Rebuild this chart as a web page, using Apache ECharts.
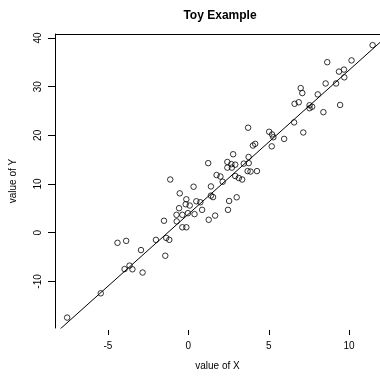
<!DOCTYPE html>
<html>
<head>
<meta charset="utf-8">
<script src="https://cdn.jsdelivr.net/npm/echarts@6/dist/echarts.min.js"></script>
<style>
  html, body { margin: 0; padding: 0; background: #fff; }
  #chart { width: 380px; height: 376px; }
</style>
</head>
<body>
<div id="chart"></div>
<script>
// data
const xValues = [
  -7.53, -5.44, -4.40, -3.86, -2.94, -3.96, -3.65, -3.47, -2.84, -2.01,
  -1.37, -1.18, -1.43, -1.51, -1.12, -0.73, -0.37, -0.02, 0.39, -0.72,
  -0.37, -0.12, -0.53, -0.12, 0.50, 0.75, -0.16, 0.09, -0.57, 0.86,
  0.33, 1.41, 1.41, 1.54, 1.27, 1.67, 2.47, 2.54, 3.01, 2.14,
  3.35, 1.76, 2.00, 2.92, 3.14, 1.24, 2.43, 2.68, 2.92, 3.45,
  3.76, 2.43, 2.71, 3.69, 3.87, 4.27, 2.79, 3.75, 4.02, 4.16,
  5.19, 3.72, 5.03, 5.21, 5.29, 5.96, 6.58, 7.15, 6.61, 6.87,
  6.99, 7.09, 7.54, 7.70, 7.54, 8.05, 8.40, 9.44, 8.54, 9.19,
  9.37, 9.68, 9.70, 8.64, 10.15, 11.46
];
const yValues = [
  -17.42, -12.44, -2.07, -1.67, -3.56, -7.46, -6.75, -7.50, -8.17, -1.46,
  -1.06, -1.46, -4.72, 2.46, 10.93, 3.68, 3.68, 4.02, 3.82, 2.34,
  1.12, 1.12, 8.09, 6.87, 6.46, 6.26, 5.85, 5.59, 5.04, 4.70,
  9.45, 9.51, 7.62, 7.32, 2.66, 3.52, 4.70, 6.52, 7.28, 10.47,
  10.93, 11.85, 11.54, 11.65, 11.24, 14.29, 14.53, 14.09, 13.98, 14.19,
  14.29, 13.37, 13.37, 12.66, 12.56, 12.66, 16.12, 15.55, 17.91, 18.25,
  17.74, 21.57, 20.73, 20.18, 19.61, 19.27, 22.66, 20.59, 26.48, 26.79,
  29.70, 28.68, 26.18, 25.87, 25.57, 28.41, 24.76, 26.24, 30.65, 30.65,
  33.09, 33.50, 31.91, 35.02, 35.39, 38.52
];

// fitted line  y = a + b x
const fitIntercept = 3.8;
const fitSlope = 2.96;
const fitX = [-9, 13];

const xTicks = [-5, 0, 5, 10];
const yTicks = [-10, 0, 10, 20, 30, 40];

const xMin = -8.285, xMax = 11.92;
const yMin = -19.56, yMax = 40.81;

const points = xValues.map((x, i) => [x, yValues[i]]);
const fitLine = fitX.map((x) => [x, fitIntercept + fitSlope * x]);

const font = "'Liberation Sans', Arial, Helvetica, sans-serif";
const chart = echarts.init(document.getElementById("chart"));

chart.setOption({
  animation: false,
  title: {
    text: "Toy Example",
    left: 215,
    top: 5,
    textAlign: "center",
    textStyle: { fontFamily: font, fontSize: 12, fontWeight: "bold", color: "#000" },
  },
  grid: { left: 50, top: 34, right: 0, bottom: 45 },
  xAxis: {
    type: "value",
    min: xMin,
    max: xMax,
    name: "value of X",
    nameLocation: "middle",
    nameGap: 33,
    nameTextStyle: { fontFamily: font, fontSize: 10, color: "#000" },
    axisLine: { show: false, onZero: false },
    axisTick: { show: false },
    axisLabel: { customValues: xTicks, margin: 13, fontFamily: font, fontSize: 10, color: "#000" },
    splitLine: { show: false },
  },
  yAxis: {
    type: "value",
    min: yMin,
    max: yMax,
    name: "value of Y",
    nameLocation: "middle",
    nameGap: 37,
    nameTextStyle: { fontFamily: font, fontSize: 10, color: "#000" },
    axisLine: { show: true, onZero: false, lineStyle: { color: "#000", width: 1 } },
    axisTick: { show: true, customValues: yTicks, length: 7, lineStyle: { color: "#000" } },
    axisLabel: { customValues: yTicks, rotate: 90, margin: 12, fontFamily: font, fontSize: 10, color: "#000" },
    splitLine: { show: false },
  },
  series: [
    {
      type: "scatter",
      data: points,
      symbol: "circle",
      symbolSize: 5.5,
      itemStyle: { color: "rgba(0,0,0,0)", borderColor: "#000", borderWidth: 1 },
      silent: true,
      // top edge of the plot box
      markLine: {
        silent: true,
        symbol: "none",
        label: { show: false },
        lineStyle: { color: "#000", width: 1, type: "solid" },
        data: [{ yAxis: yMax }],
      },
    },
    {
      type: "line",
      data: fitLine,
      symbol: "none",
      clip: true,
      lineStyle: { color: "#000", width: 1 },
      silent: true,
    },
    {
      // x tick marks hanging just below the plot, as in R
      type: "custom",
      data: xTicks.map((x) => [x, yMin]),
      encode: { x: 0, y: 1 },
      clip: false,
      silent: true,
      z: 10,
      renderItem: (params, api) => {
        const p = api.coord([api.value(0), api.value(1)]);
        const px = Math.round(p[0]) + 0.5;
        return {
          type: "line",
          shape: { x1: px, y1: p[1] + 2, x2: px, y2: p[1] + 7 },
          style: { stroke: "#000", lineWidth: 1 },
        };
      },
    },
  ],
});
</script>
</body>
</html>
